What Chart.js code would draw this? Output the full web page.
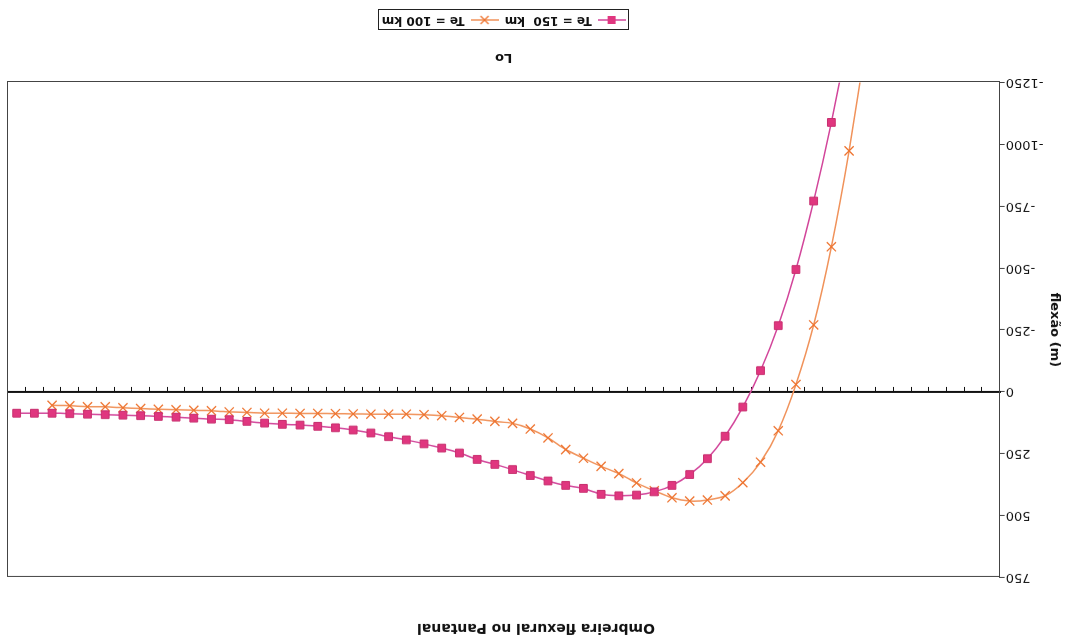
<!DOCTYPE html>
<html>
<head>
<meta charset="utf-8">
<title>Ombreira flexural no Pantanal</title>
<script src="https://cdn.jsdelivr.net/npm/chart.js@4.4.1/dist/chart.umd.min.js"></script>
<style>
  html, body { margin: 0; padding: 0; background: #fff; }
  #wrap { width: 1066px; height: 642px; position: relative; transform: rotate(180deg); }
</style>
</head>
<body>
<div id="wrap"><canvas id="myChart"></canvas></div>
<script>
// perfil de flexão ao longo de Lo (56 posições)
var categorias = Array.from({ length: 56 }, function (_, k) { return String(k + 1); });

var te150 = [null, null, null, null, null, null, null, null,
  -1450, -1089, -771, -494, -267, -85, 62, 180, 271, 335, 379, 405, 418, 421, 415, 391,
  379, 361, 339, 315, 294, 274, 248, 228, 211, 195, 182, 167, 155, 146, 140, 135,
  132, 127, 120, 113, 111, 107, 103, 100, 97, 95, 93, 91, 89, 87, 87, 87];

var te100 = [null, null, null, null, null, null, null,
  -1430, -974, -586, -270, -29, 158, 285, 368, 421, 438, 442, 429, 401, 369, 331, 302,
  269, 234, 187, 151, 128, 120, 111, 104, 97, 93, 91, 91, 91, 90, 89, 88,
  88, 87, 87, 84, 82, 77, 75, 73, 71, 68, 65, 61, 61, 57, 55, null, null];

var yTicks = [750, 500, 250, 0, -250, -500, -750, -1000, -1250];

var fonte = 'DejaVu Sans';
var corRosa = '#d2459a', corRosaPto = '#e0367f';
var corLaranja = '#f0925a', corLaranjaPto = '#ee7430';

// icones da legenda: linha com o marcador no meio
function iconeLegenda(tipo) {
  var c = document.createElement('canvas');
  c.width = 28; c.height = 12;
  var g = c.getContext('2d');
  g.lineWidth = 1.5;
  g.strokeStyle = tipo === 'rect' ? corRosa : corLaranja;
  g.beginPath(); g.moveTo(0, 6); g.lineTo(28, 6); g.stroke();
  if (tipo === 'rect') {
    g.fillStyle = corRosaPto;
    g.fillRect(10, 2, 8, 8);
  } else {
    g.strokeStyle = corLaranjaPto;
    g.lineWidth = 1.3;
    g.beginPath();
    g.moveTo(10, 2); g.lineTo(18, 10);
    g.moveTo(18, 2); g.lineTo(10, 10);
    g.stroke();
  }
  return c;
}
var icones = [iconeLegenda('rect'), iconeLegenda('crossRot')];

// moldura da area de plotagem e caixa da legenda
var moldura = {
  id: 'moldura',
  afterDraw: function (chart) {
    var ctx = chart.ctx, a = chart.chartArea;
    ctx.save();
    ctx.strokeStyle = '#444';
    ctx.lineWidth = 1;
    ctx.strokeRect(Math.round(a.left) + 0.5, Math.round(a.top) + 0.5,
      Math.round(a.right - a.left), Math.round(a.bottom - a.top));
    var hb = chart.legend.legendHitBoxes;
    if (hb && hb.length) {
      var l = Infinity, r = -Infinity, t = Infinity, b = -Infinity;
      hb.forEach(function (h) {
        l = Math.min(l, h.left); r = Math.max(r, h.left + h.width);
        t = Math.min(t, h.top); b = Math.max(b, h.top + h.height);
      });
      ctx.strokeStyle = '#222';
      ctx.strokeRect(Math.round(l - 3) + 0.5, Math.round(t - 4) + 0.5,
        Math.round(r - l + 6), Math.round(b - t + 8));
    }
    ctx.restore();
  }
};

var ctx = document.getElementById('myChart').getContext('2d');
var myChart = new Chart(ctx, {
  type: 'line',
  data: {
    labels: categorias,
    datasets: [{
      label: 'Te = 150  km',
      data: te150,
      borderColor: corRosa,
      borderWidth: 1.5,
      pointStyle: 'rect',
      pointRadius: 5.5,
      pointBackgroundColor: corRosaPto,
      pointBorderColor: '#c8306f',
      pointBorderWidth: 1,
      tension: 0.25
    }, {
      label: 'Te = 100 km',
      data: te100,
      borderColor: corLaranja,
      borderWidth: 1.5,
      pointStyle: 'crossRot',
      pointRadius: 6.5,
      pointBorderColor: corLaranjaPto,
      pointBorderWidth: 1.3,
      tension: 0.25
    }]
  },
  options: {
    responsive: true,
    maintainAspectRatio: false,
    animation: false,
    layout: { padding: { top: 0, right: 6, bottom: 4, left: 0 } },
    scales: {
      x: {
        type: 'category',
        offset: true,
        grid: { display: false, drawTicks: false },
        border: { display: false },
        ticks: { display: false },
        title: {
          display: true,
          text: 'Lo',
          color: '#111',
          font: { family: fonte, size: 13, weight: 'bold' },
          padding: { top: 17, bottom: 18 }
        }
      },
      x2: {
        type: 'category',
        labels: categorias,
        offset: true,
        position: { y: 0 },
        grid: { offset: true, drawOnChartArea: false, color: '#111', tickLength: 4, lineWidth: 1 },
        border: { color: '#111', width: 2 },
        ticks: { display: false }
      },
      y: {
        position: 'left',
        min: -1250,
        max: 750,
        afterBuildTicks: function (axis) {
          axis.ticks = yTicks.map(function (v) { return { value: v }; });
        },
        grid: { drawOnChartArea: false, color: '#444', tickLength: 5 },
        border: { color: '#444', width: 1 },
        ticks: {
          color: '#111',
          padding: 1,
          font: { family: fonte, size: 13 },
          callback: function (v) { return String(v); }
        },
        title: {
          display: true,
          text: 'flexão (m)',
          color: '#111',
          font: { family: fonte, size: 13, weight: 'bold' },
          padding: { top: 4, bottom: 2 }
        }
      }
    },
    plugins: {
      title: {
        display: true,
        text: 'Ombreira flexural no Pantanal',
        color: '#111',
        font: { family: fonte, size: 14, weight: 'bold' },
        padding: { top: 6, bottom: 42 }
      },
      legend: {
        position: 'bottom',
        fullSize: false,
        labels: {
          usePointStyle: true,
          pointStyleWidth: 28,
          padding: 6,
          color: '#111',
          font: { family: fonte, size: 12, weight: 'bold' },
          generateLabels: function (chart) {
            var itens = Chart.defaults.plugins.legend.labels.generateLabels(chart);
            itens.forEach(function (it, k) { it.pointStyle = icones[k]; });
            return itens;
          }
        }
      },
      tooltip: { enabled: false }
    }
  },
  plugins: [moldura]
});
</script>
</body>
</html>
